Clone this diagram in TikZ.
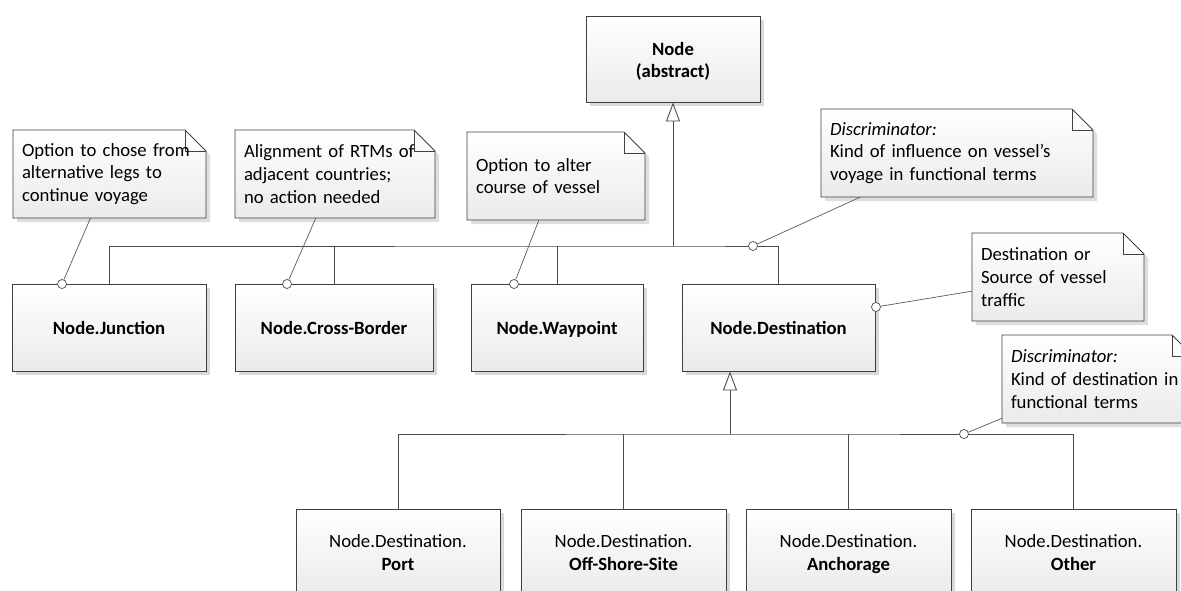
\documentclass[tikz,border=0pt]{standalone}
\usepackage{fontspec}
\setmainfont{Carlito}
\usetikzlibrary{arrows.meta,shadows}

\tikzset{
  cls/.style={draw=black!75, line width=0.9pt, top color=white, bottom color=black!8,
    minimum height=87pt, align=center, inner sep=2pt,
    execute at begin node=\rule{0pt}{20pt}, execute at end node=\strut,
    drop shadow={shadow xshift=4pt, shadow yshift=-4pt, fill=black!15, opacity=1}},
  notetext/.style={align=left, inner xsep=9pt, inner ysep=0pt, minimum height=88pt},
  genline/.style={draw=black!70, line width=0.9pt},
  genarrow/.style={genline, -{Triangle[open, length=19pt, width=14pt, fill=white]}},
  link/.style={draw=black!65, line width=0.7pt},
  knob/.style={circle, draw=black!70, line width=0.7pt, fill=white, inner sep=0pt, minimum size=9pt},
}

% two-line name of a destination kind
\newcommand{\destkind}[1]{\rule{0pt}{20pt}Node.Destination.\\\textbf{#1}}

% note with folded corner: name, x, y, width, text
\newcommand{\umlnote}[5]{%
  \pgfmathsetmacro\notetw{#4-18}
  \fill[black!13] (#2+4,#3+4) -- (#2+#4-17,#3+4) -- (#2+#4+4,#3+25) -- (#2+#4+4,#3+92) -- (#2+4,#3+92) -- cycle;
  \shade[top color=white, bottom color=black!8, draw=black!75, line width=0.8pt]
    (#2,#3) -- (#2+#4-21,#3) -- (#2+#4,#3+21) -- (#2+#4,#3+88) -- (#2,#3+88) -- cycle;
  \draw[black!75, line width=0.8pt] (#2+#4-21,#3) |- (#2+#4,#3+21);
  \node[notetext, text width=\notetw pt] (#1) at (#2+#4/2,#3+44) {#5};
}

\begin{document}
\begin{tikzpicture}[x=1pt, y=-1pt, font=\fontsize{18.7}{22.8}\selectfont]
  \useasboundingbox (0,0) rectangle (1181,591);

  % classes
  \node[cls, minimum width=174pt, minimum height=86pt] (abstract) at (673,59) {\rule{0pt}{22pt}\textbf{Node}\\\textbf{(abstract)}};
  \node[cls, minimum width=194pt] (junc) at (109,327.5) {\textbf{Node.Junction}};
  \node[cls, minimum width=198pt] (cross) at (334,327.5) {\textbf{Node.Cross-Border}};
  \node[cls, minimum width=172pt] (way) at (557,327.5) {\textbf{Node.Waypoint}};
  \node[cls, minimum width=193pt] (dest) at (778.5,327.5) {\textbf{Node.Destination}};

  \node[cls, minimum width=204pt] (port) at (398,552.5) {\destkind{Port}};
  \node[cls, minimum width=205pt] (offshore) at (623.5,552.5) {\destkind{Off-Shore-Site}};
  \node[cls, minimum width=205pt] (anchor) at (848.5,552.5) {\destkind{Anchorage}};
  \node[cls, minimum width=205pt] (other) at (1073.5,552.5) {\destkind{Other}};

  % generalisation buses
  \coordinate (bus1) at (673,246);
  \coordinate (bus2) at (730,434);
  \draw[genline] (junc.north) |- (bus1) -| (dest.north);
  \draw[genline] (cross.north) -- (cross.north |- bus1);
  \draw[genline] (way.north) -- (way.north |- bus1);
  \draw[genarrow] (bus1) -- (abstract.south);

  \draw[genline] (port.north) |- (bus2) -| (other.north);
  \draw[genline] (offshore.north) -- (offshore.north |- bus2);
  \draw[genline] (anchor.north) -- (anchor.north |- bus2);
  \draw[genarrow] (bus2) -- (bus2 |- dest.south);

  % notes
  \umlnote{n1}{13}{130}{193}{Option to chose from\\alternative legs to\\continue voyage}
  \umlnote{n2}{235}{130}{200}{Alignment of RTMs of\\adjacent countries;\\no action needed}
  \umlnote{n3}{467}{132}{178}{Option to alter\\course of vessel}
  \umlnote{n4}{821}{109}{272}{\textit{Discriminator:}\\Kind of influence on vessel’s\\voyage in functional terms}
  \umlnote{n5}{972}{233}{172}{Destination or\\Source of vessel\\traffic}
  \umlnote{n6}{1002}{335}{191}{\textit{Discriminator:}\\Kind of destination in\\functional terms}

  % note anchors
  \node[knob] (k1) at (62,284) {};
  \node[knob] (k2) at (287,284) {};
  \node[knob] (k3) at (514,284) {};
  \node[knob] (k4) at (753,246) {};
  \node[knob] (k5) at (876,307) {};
  \node[knob] (k6) at (964,434) {};
  \foreach \i in {1,...,6}
    \draw[link] (k\i) -- (n\i);
\end{tikzpicture}
\end{document}
